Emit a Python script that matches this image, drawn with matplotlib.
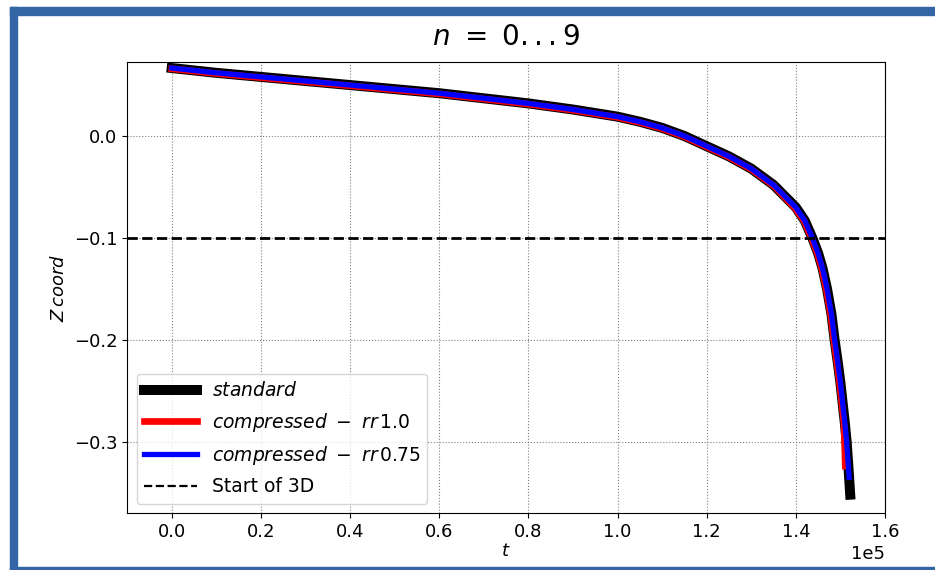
import matplotlib
matplotlib.use('Agg')
import matplotlib.pyplot as plt
from matplotlib.patches import Rectangle

# values (t in seconds, Z coordinate)
t_std = [0, 10000, 20000, 30000, 40000, 50000, 60000, 70000, 80000, 90000,
         100000, 105000, 110000, 115000, 120000, 125000, 130000, 135000, 140000,
         142000, 143700, 145000, 146000, 147000, 148000, 148700, 149500, 150000,
         150500, 151000, 151400, 151800, 152200]
z_std = [0.0667, 0.062, 0.058, 0.054, 0.050, 0.046, 0.042, 0.037, 0.032, 0.026,
         0.019, 0.014, 0.008, 0.000, -0.010, -0.020, -0.032, -0.048, -0.070,
         -0.083, -0.100, -0.115, -0.130, -0.150, -0.175, -0.200, -0.225, -0.242,
         -0.262, -0.282, -0.300, -0.325, -0.352]

t_rr1 = [0, 10000, 20000, 30000, 40000, 50000, 60000, 70000, 80000, 90000,
         100000, 105000, 110000, 115000, 120000, 125000, 130000, 135000, 139800,
         141800, 143500, 144800, 145800, 146800, 147800, 148500, 149300, 149800,
         150300, 150800, 151100]
z_rr1 = [0.0660, 0.0613, 0.0573, 0.0533, 0.0493, 0.0453, 0.0413, 0.0363, 0.0313, 0.0253,
         0.0183, 0.0133, 0.0073, -0.0007, -0.0107, -0.0207, -0.0327, -0.0487, -0.0707,
         -0.083, -0.100, -0.115, -0.130, -0.150, -0.175, -0.200, -0.225, -0.242,
         -0.262, -0.282, -0.324]

t_rr075 = [0, 10000, 20000, 30000, 40000, 50000, 60000, 70000, 80000, 90000,
           100000, 105000, 110000, 115000, 120000, 125000, 130000, 135000, 140000,
           142000, 143700, 145000, 146000, 147000, 148000, 148700, 149500, 150000,
           150500, 151000, 151400, 151950]
z_rr075 = [0.0667, 0.062, 0.058, 0.054, 0.050, 0.046, 0.042, 0.037, 0.032, 0.026,
           0.019, 0.014, 0.008, 0.000, -0.010, -0.020, -0.032, -0.048, -0.070,
           -0.083, -0.100, -0.115, -0.130, -0.150, -0.175, -0.200, -0.225, -0.242,
           -0.262, -0.282, -0.300, -0.335]

start_3d = -0.1

fig = plt.figure(figsize=(9.35, 5.7), dpi=100)

# blue screenshot frame
blue = '#3465a4'
for r in [(10, 0, 7, 563), (10, 555, 925, 8), (10, 0, 925, 3)]:
    fig.patches.append(Rectangle((r[0]/935, r[1]/570), r[2]/935, r[3]/570,
                                 transform=fig.transFigure, color=blue, zorder=0))

ax = fig.add_axes([0.136, 0.100, 0.8105, 0.791])

ax.plot(t_std, z_std, color='black', lw=7.2, label='$standard$')
ax.plot(t_rr1, z_rr1, color='red', lw=4.8, label='$compressed\\ -\\ rr\\,1.0$')
ax.plot(t_rr075, z_rr075, color='blue', lw=3.8, label='$compressed\\ -\\ rr\\,0.75$')
ax.axhline(start_3d, color='black', ls='--', lw=2, label='Start of 3D')

ax.set_xlim(-10000, 160000)
ax.set_ylim(-0.37, 0.0725)
ax.set_yticks([0.0, -0.1, -0.2, -0.3])
ax.ticklabel_format(axis='x', style='sci', scilimits=(0, 0))
ax.grid(True, color='gray', ls=':', lw=0.8)
ax.tick_params(labelsize=13)
ax.xaxis.get_offset_text().set_fontsize(13)

ax.set_title('$n\\ =\\ 0...9$', fontsize=20, pad=12)
ax.set_xlabel('$t$', fontsize=13, labelpad=1)
ax.set_ylabel('$Z\\, coord$', fontsize=13)

leg = ax.legend(loc='lower left', fontsize=13.5, handlelength=2.8, labelspacing=0.55)
for h in leg.get_lines()[3:]:
    h.set_linewidth(1.6)

fig.savefig('out.png', dpi=100)
